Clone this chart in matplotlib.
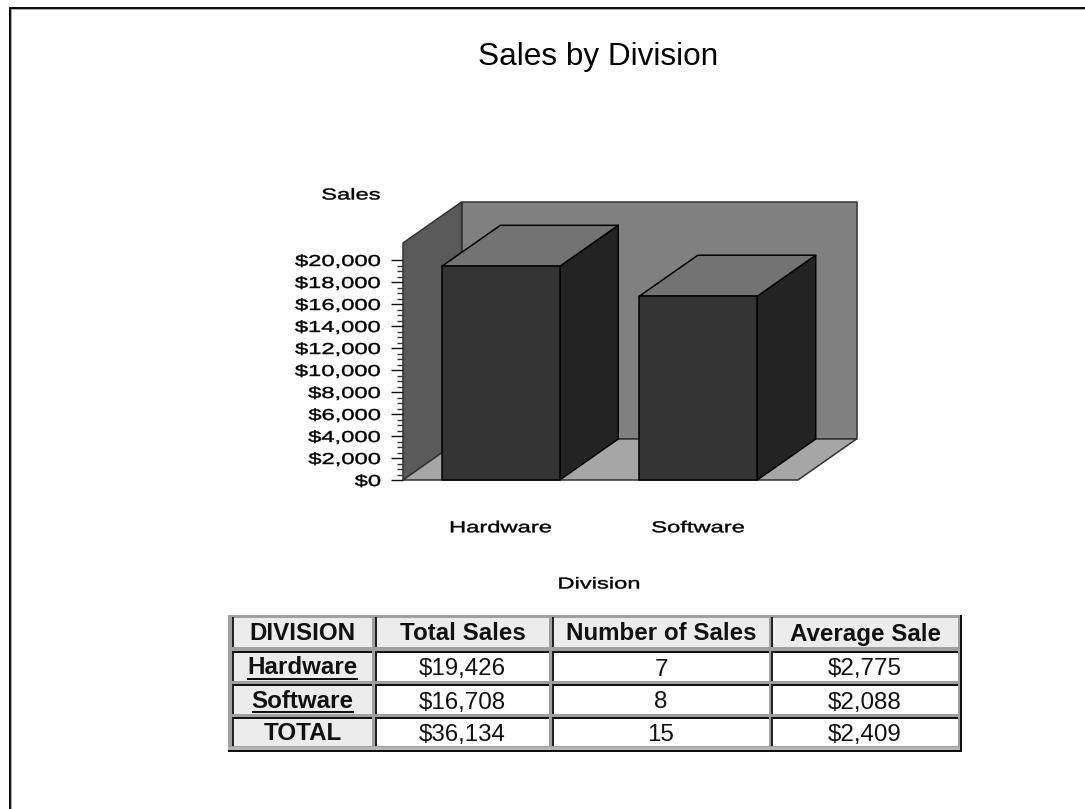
import matplotlib
matplotlib.use("Agg")
import matplotlib.pyplot as plt
from matplotlib.patches import Polygon, Rectangle
from matplotlib.patheffects import AbstractPathEffect
from matplotlib.transforms import Affine2D

plt.rcParams['font.family'] = ['Liberation Sans', 'DejaVu Sans']

divisions = ["Hardware", "Software"]
total_sales = [19426, 16708]
number_of_sales = [7, 8]
average_sale = [2775, 2088]
grand_total = 36134
grand_number = 15
grand_average = 2409
table_columns = ["DIVISION", "Total Sales", "Number of Sales", "Average Sale"]
y_major = list(range(0, 20001, 2000))
y_minor = list(range(0, 20001, 500))

W, H = 1085, 809
STRETCH = 1.5


# chart labels in the reference are arial pulled out sideways
class StretchX(AbstractPathEffect):
    def __init__(self, x0):
        super().__init__()
        self.x0 = x0

    def draw_path(self, renderer, gc, tpath, affine, rgbFace=None):
        wide = Affine2D().translate(-self.x0, 0).scale(STRETCH, 1).translate(self.x0, 0)
        gc.set_linewidth(0.3)
        renderer.draw_path(gc, tpath, affine + wide, rgbFace)


fig = plt.figure(figsize=(W / 100, H / 100), dpi=100, facecolor="white")

# page frame and table, in pixels
page = fig.add_axes([0, 0, 1, 1])
page.set_xlim(0, W)
page.set_ylim(H, 0)
page.axis("off")
page.add_patch(Rectangle((9, 7), W, 2, fc="#111111", ec="none"))
page.add_patch(Rectangle((9, 9), W, 1, fc="#b0b0b0", ec="none"))
page.add_patch(Rectangle((9, 7), 2, H, fc="#111111", ec="none"))
page.add_patch(Rectangle((11, 9), 1, H, fc="#b0b0b0", ec="none"))
page.text(598, 57, "Sales by Division", fontsize=22.7, ha="center", va="center", color="black")

col_x = [(233, 372), (376, 549), (553, 769), (772, 958)]
row_y = [(618, 647), (652, 681), (685, 714), (718, 746)]
rows = [table_columns]
for i in range(len(divisions)):
    rows.append([divisions[i], "${:,}".format(total_sales[i]), str(number_of_sales[i]), "${:,}".format(average_sale[i])])
rows.append(["TOTAL", "${:,}".format(grand_total), str(grand_number), "${:,}".format(grand_average)])

page.add_patch(Rectangle((228, 615), 733, 135, fc="#a0a0a0", ec="none"))
page.add_patch(Rectangle((228, 750), 734, 2, fc="#111111", ec="none"))
page.add_patch(Rectangle((960, 615), 2, 137, fc="#111111", ec="none"))
page.add_patch(Rectangle((228, 747), 732, 3, fc="#b4b4b4", ec="none"))

for r, (y0, y1) in enumerate(row_y):
    for c, (x0, x1) in enumerate(col_x):
        shaded = r == 0 or c == 0
        page.add_patch(Rectangle((x0, y0), x1 - x0, y1 - y0, fc="#ececec" if shaded else "white", ec="none"))
        if r > 0:
            page.add_patch(Rectangle((x0 - 1, y0 - 1), x1 - x0 + 1, 2, fc="#111111", ec="none"))
        page.add_patch(Rectangle((x0 - 1, y0 - 1), 1.5, y1 - y0 + 1, fc="#222222", ec="none"))
        bold = r == 0 or c == 0
        t = page.text((x0 + x1) / 2, (y0 + y1) / 2 + (1.5 if bold else 3), rows[r][c], fontsize=17.4, ha="center", va="center",
                      color="#111111", fontweight="bold" if bold else "normal")
        if c == 0 and 0 < r < 3:
            fig.canvas.draw()
            box = t.get_window_extent()
            page.add_patch(Rectangle((box.x0, y1 - 3), box.width, 2, fc="#111111", ec="none"))

# the 3d bar chart on a real value axis, front face of the box
ax = fig.add_axes([403 / W, (H - 480) / H, 395 / W, 220 / H])
ax.patch.set_visible(False)
x0, x1 = -0.495, 1.505
ax.set_xlim(x0, x1)
ax.set_ylim(0, 20000)
for s in ax.spines.values():
    s.set_visible(False)

dx = 58.5 / 197.5
dy = 41 / 0.011
wall_top = 21545
bar_w = 0.597


def poly(pts, fc, ec="#111111", z=2):
    ax.add_patch(Polygon(pts, closed=True, fc=fc, ec=ec, lw=1.1, clip_on=False, zorder=z, joinstyle="round"))


poly([(x0 + dx, dy), (x1 + dx, dy), (x1 + dx, wall_top + dy), (x0 + dx, wall_top + dy)], "#808080", "#333333", 1)
poly([(x0, 0), (x0 + dx, dy), (x0 + dx, wall_top + dy), (x0, wall_top)], "#5a5a5a", "#333333", 1)
poly([(x0, 0), (x1, 0), (x1 + dx, dy), (x0 + dx, dy)], "#a6a6a6", "#333333", 1)

for i, v in enumerate(total_sales):
    a, b = i - bar_w / 2, i + bar_w / 2
    poly([(b, 0), (b + dx, dy), (b + dx, v + dy), (b, v)], "#232323", "#000000")
    poly([(a, v), (b, v), (b + dx, v + dy), (a + dx, v + dy)], "#737373", "#000000")
    poly([(a, 0), (b, 0), (b, v), (a, v)], "#343434", "#000000")

ax.set_yticks(y_major)
ax.set_yticks(y_minor, minor=True)
ax.set_yticklabels(["${:,}".format(v) for v in y_major], fontsize=11.4)
ax.tick_params(axis="y", which="major", length=8.6, width=1.0, pad=7.2, color="#111111")
ax.tick_params(axis="y", which="minor", length=4.3, width=1.0, color="#333333")
ax.set_xticks(range(len(divisions)))
ax.set_xticklabels(divisions, fontsize=11.4)
ax.tick_params(axis="x", length=0, pad=29)

fig.canvas.draw()
for lab in ax.get_yticklabels():
    lab.set_path_effects([StretchX(381)])
for i, lab in enumerate(ax.get_xticklabels()):
    lab.set_path_effects([StretchX(ax.transData.transform((i, 0))[0])])

sales_label = page.text(381, 195, "Sales", fontsize=11.4, ha="right", va="center", color="black")
sales_label.set_path_effects([StretchX(381)])
division_label = page.text(599, 584, "Division", fontsize=11.4, ha="center", va="center", color="black")
division_label.set_path_effects([StretchX(599)])

fig.savefig("out.png", dpi=100)
